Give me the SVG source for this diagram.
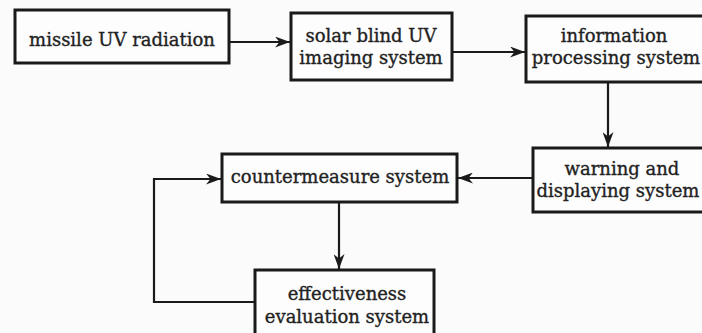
<svg xmlns="http://www.w3.org/2000/svg" width="702" height="333" viewBox="0 0 702 333">
<style>
.box{fill:#fdfdfd;stroke:#1a1a1a;stroke-width:3}
.t{font-family:"DejaVu Serif","Liberation Serif",serif;font-size:18px;fill:#222;stroke:#222;stroke-width:0.35;text-anchor:middle}
.c{fill:none;stroke:#1a1a1a;stroke-width:2.2}
</style>
<defs>
<marker id="ah" viewBox="0 0 15 11" refX="15" refY="5.5" markerWidth="15" markerHeight="11" markerUnits="userSpaceOnUse" orient="auto">
<path d="M0,0 L15,5.5 L0,11 L4.5,5.5 z" fill="#1a1a1a"/>
</marker>
</defs>
<rect width="702" height="333" fill="#fbfbfb"/>
<g id="connectors">
<path class="c" d="M229,42 H290" marker-end="url(#ah)"/>
<path class="c" d="M452,52 H525" marker-end="url(#ah)"/>
<path class="c" d="M608,82 V147" marker-end="url(#ah)"/>
<path class="c" d="M533,178 H458" marker-end="url(#ah)"/>
<path class="c" d="M339,202 V269" marker-end="url(#ah)"/>
<path class="c" d="M255,302 H154 V179 H221" marker-end="url(#ah)"/>
</g>
<g id="n1">
<rect class="box" x="15" y="10" width="214" height="53"/>
<text class="t" x="122" y="46">missile UV radiation</text>
</g>
<g id="n2">
<rect class="box" x="291" y="13" width="161" height="67"/>
<text class="t" x="371" y="42">solar blind UV</text>
<text class="t" x="371" y="64">imaging system</text>
</g>
<g id="n3">
<rect class="box" x="526" y="16" width="190" height="66"/>
<text class="t" x="614" y="42">information</text>
<text class="t" x="616" y="64">processing system</text>
</g>
<g id="n4">
<rect class="box" x="533" y="148" width="180" height="64"/>
<text class="t" x="622" y="175">warning and</text>
<text class="t" x="618" y="197">displaying system</text>
</g>
<g id="n5">
<rect class="box" x="222" y="154" width="235" height="48"/>
<text class="t" x="340" y="183">countermeasure system</text>
</g>
<g id="n6">
<rect class="box" x="255" y="270" width="179" height="75"/>
<text class="t" x="347" y="300">effectiveness</text>
<text class="t" x="347" y="323">evaluation system</text>
</g>
</svg>
